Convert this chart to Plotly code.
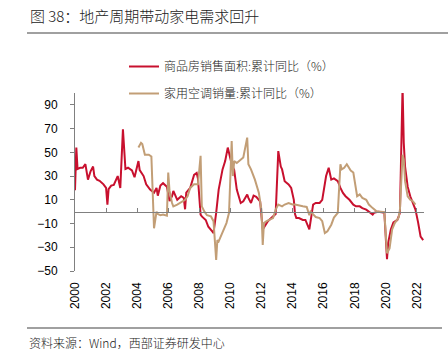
import plotly.graph_objects as go

# ---- data ----
sales_dates = ["2000-01","2000-02","2000-03","2000-05","2000-07","2000-09","2000-11",
               "2001-01","2001-03","2001-04","2001-06","2001-08","2001-11",
               "2002-01","2002-02","2002-03","2002-05","2002-07","2002-10","2002-12",
               "2003-02","2003-04","2003-06","2003-09","2003-11",
               "2004-02","2004-03","2004-06","2004-08","2004-11",
               "2005-02","2005-04","2005-05","2005-07","2005-09","2005-12",
               "2006-02","2006-04","2006-05","2006-08","2006-11",
               "2007-01","2007-02","2007-03","2007-06","2007-09","2007-11","2007-12",
               "2008-02","2008-03","2008-06","2008-08","2008-11","2008-12",
               "2009-02","2009-04","2009-07","2009-09","2009-11",
               "2010-02","2010-04","2010-06","2010-09","2010-11",
               "2011-02","2011-03","2011-05","2011-07","2011-09","2011-12",
               "2012-02","2012-04","2012-06","2012-09","2012-12",
               "2013-02","2013-04","2013-05","2013-07","2013-10","2013-12",
               "2014-02","2014-03","2014-04","2014-06","2014-09","2014-11",
               "2015-02","2015-03","2015-05","2015-07","2015-10","2015-12",
               "2016-03","2016-05","2016-07","2016-09","2016-12",
               "2017-02","2017-04","2017-06","2017-09","2017-12",
               "2018-02","2018-05","2018-07","2018-10","2018-12",
               "2019-03","2019-04","2019-07","2019-10","2019-12",
               "2020-02","2020-03","2020-05","2020-07","2020-10","2020-12",
               "2021-02","2021-03","2021-04","2021-06","2021-08","2021-10","2021-12",
               "2022-02","2022-04","2022-06"]
sales_yoy = [18,54,36,37,37,40,27,
             34,38,30,27,26,23,
             20,6,19,22,22.6,30,20,
             69.5,36,37,34.7,29,
             42.6,35,30,23,18.6,
             16,20,13.5,22,24,21,
             9,13,17.5,10,13,
             11.6,2,16,20,31,32.6,28,
             -2.5,-4,-7,-12.7,-16.7,-18,
             -1,18.6,35.6,42.6,54,
             40,35,18.6,7.3,8.8,
             14.5,11.6,7.3,13.6,12.5,8.8,
             -15,-12,-8,-5,-2,
             51,38,35.6,25.7,23,20,
             10,-2,-5.4,-5.4,-7,-7,
             -15,-7,6,7.3,7.3,10,
             30,37,27,28,25.7,
             20,15.8,13,10,5.9,
             4.5,4.5,3,1.7,0.3,
             -2.5,-1,0,-0.5,-1,
             -40,-26,-15,-9,-7,-1,
             105,58,38,21,13,7.3,1.7,
             -9,-21,-24]

ac_dates = ["2004-02","2004-04","2004-05","2004-07","2004-10","2004-12",
            "2005-02","2005-03","2005-04","2005-05","2005-07","2005-09","2005-12",
            "2006-01","2006-02","2006-04","2006-05","2006-08","2006-10",
            "2007-02","2007-04","2007-06","2007-09","2007-12",
            "2008-02","2008-03","2008-05","2008-07","2008-10","2008-12",
            "2009-02","2009-03","2009-04","2009-07","2009-10","2009-12",
            "2010-02","2010-03","2010-04","2010-06","2010-09","2010-11",
            "2011-02","2011-03","2011-05","2011-08","2011-11",
            "2012-01","2012-02","2012-03","2012-05","2012-07","2012-10","2012-12",
            "2013-02","2013-05","2013-07","2013-10",
            "2014-01","2014-03","2014-06","2014-09","2014-12",
            "2015-02","2015-03","2015-05","2015-07","2015-10","2015-12",
            "2016-02","2016-04","2016-07","2016-09","2016-12",
            "2017-02","2017-03","2017-05","2017-07","2017-10","2017-12",
            "2018-03","2018-05","2018-07","2018-10","2018-12",
            "2019-03","2019-06","2019-12",
            "2020-02","2020-04","2020-06","2020-08","2020-11","2020-12",
            "2021-02","2021-03","2021-04","2021-06","2021-08","2021-10","2021-12"]
ac_yoy = [54,58,57,48,48,46.5,
          -14,-5,0,-2,-3,-2.5,-3.4,
          33,17.5,7.3,4.5,6,7.3,
          10,13,20,23,23,
          47,4.5,0,-3,-4,-8,
          -40.7,-24,-25,-18,-9.6,-1,
          59.6,30,42.6,41,44,45.6,
          62.4,40,35.6,27,16,
          1.7,-28,-9.6,-8,-7,-5.4,1.7,
          6,4.5,6,7.3,
          6,6,5,4.5,4,
          -3,0,-2,-4.5,-5.4,-8,
          -18,-16.6,-11,-5,-1,
          40,35.6,37,40,34.7,33,
          13,14.5,11.6,10,6,
          3,0.3,-0.5,
          -35,-31,-15,-9.6,-5,1.7,
          48,44,25.7,13,10,8.8,6]

series_names = ["商品房销售面积:累计同比（%）", "家用空调销量:累计同比（%）"]
y_ticks = [-50, -30, -10, 10, 30, 50, 70, 90]
title_text = "图 38：地产周期带动家电需求回升"
source_text = "资料来源：Wind，西部证券研发中心"

# ---- layout geometry ----
W, H = 448, 355
L, R, T, B = 75, 424, 93, 271
def pxx(x): return (x - L) / (R - L)
def pyy(y): return (B - y) / (B - T)

RED = "#C8102E"
TAN = "#C29E76"
GREY = "#808080"
FONT = "Liberation Sans, Arial, Noto Sans CJK SC"
CJK = "Noto Sans CJK SC, Liberation Sans"

fig = go.Figure()
fig.add_trace(go.Scatter(x=sales_dates, y=sales_yoy, mode="lines", name=series_names[0],
                         line=dict(color=RED, width=2), legendgroup="a"))
fig.add_trace(go.Scatter(x=ac_dates, y=ac_yoy, mode="lines", name=series_names[1],
                         line=dict(color=TAN, width=2), legendgroup="b", xaxis="x2"))

xr = ["2000-01-01", "2022-06-20"]
fig.update_layout(
    width=W, height=H,
    margin=dict(l=L, r=W - R, t=T, b=H - B, pad=0, autoexpand=False),
    paper_bgcolor="white", plot_bgcolor="white",
    font=dict(family=FONT, size=12, color="#000"),
    showlegend=True,
    legend=dict(x=pxx(124), y=pyy(52), xanchor="left", yanchor="top",
                bgcolor="rgba(0,0,0,0)",
                font=dict(size=12, color="#222", family=CJK, weight=300),
                traceorder="grouped", tracegroupgap=8),
    xaxis=dict(type="date", range=xr, tick0="2000-01-01", dtick="M24", tickformat="%Y",
               tickangle=-90, showgrid=False, zeroline=False, showline=False, ticks="",
               tickfont=dict(size=12, color="#000"), ticklabelstandoff=8, automargin=False),
    xaxis2=dict(type="date", range=xr, matches="x", overlaying="x", anchor="free",
                position=50 / 150, side="bottom", showline=True, linecolor=GREY, linewidth=1,
                tick0="2000-01-01", dtick="M24", ticks="inside", ticklen=4,
                tickcolor=GREY, showticklabels=False, showgrid=False, zeroline=False,
                automargin=False),
    yaxis=dict(range=[-50, 100], tickvals=y_ticks, showgrid=False, zeroline=False,
               showline=True, linecolor=GREY, linewidth=1, ticks="outside", ticklen=4,
               tickcolor=GREY, tickfont=dict(size=12, color="#000"),
               ticklabelstandoff=10, automargin=False),
)

fig.add_annotation(text=title_text, xref="paper", yref="paper", x=pxx(28), y=pyy(16),
                   xanchor="left", yanchor="middle", showarrow=False,
                   font=dict(size=15, color="#222", family=CJK, weight=300))
fig.add_annotation(text=source_text, xref="paper", yref="paper", x=pxx(27), y=pyy(342),
                   xanchor="left", yanchor="middle", showarrow=False,
                   font=dict(size=12, color="#222", family=CJK, weight=300))
fig.add_shape(type="line", xref="paper", yref="paper", x0=pxx(27), x1=pxx(448),
              y0=pyy(33), y1=pyy(33), line=dict(color=GREY, width=1.5))
fig.add_shape(type="line", xref="paper", yref="paper", x0=pxx(27), x1=pxx(442),
              y0=pyy(328), y1=pyy(328), line=dict(color=GREY, width=1.5))

fig.write_html("out.html", config={"displayModeBar": False},
               post_script="document.body.style.margin='0';document.body.style.overflow='hidden';")
